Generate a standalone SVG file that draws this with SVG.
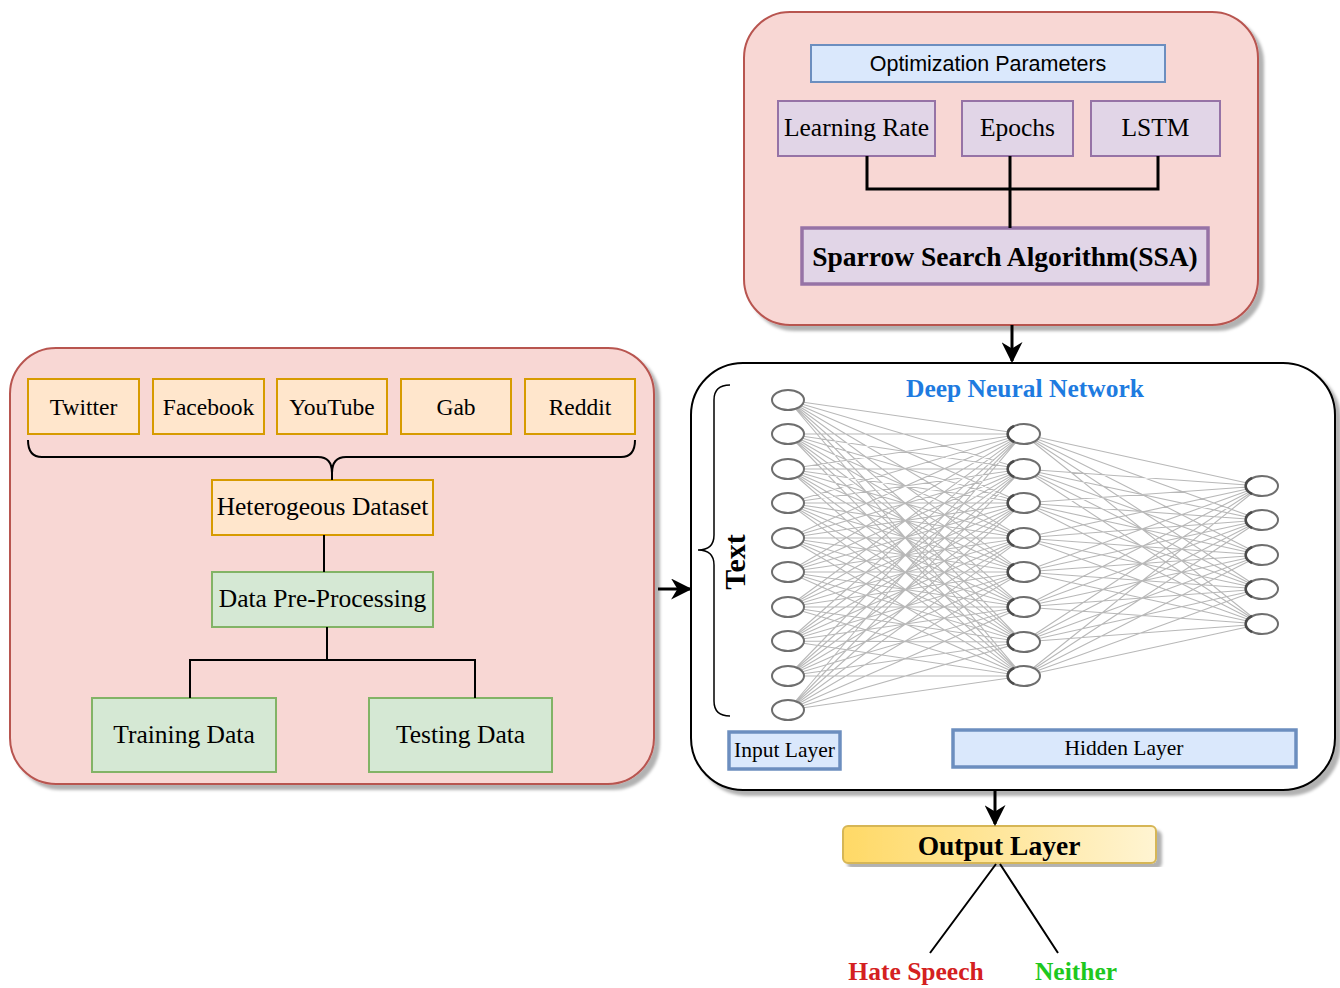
<svg xmlns="http://www.w3.org/2000/svg" width="1340" height="988" viewBox="0 0 1340 988">
  <defs>
    <filter id="shadow" x="-5%" y="-5%" width="112%" height="115%">
      <feDropShadow dx="5" dy="5" stdDeviation="1.5" flood-color="#000" flood-opacity="0.3"/>
    </filter>
    <linearGradient id="gold" x1="0" y1="0" x2="1" y2="0">
      <stop offset="0" stop-color="#ffd966"/>
      <stop offset="1" stop-color="#fff4d2"/>
    </linearGradient>
    <marker id="arrow" viewBox="0 0 10 10" refX="9" refY="5" markerWidth="7" markerHeight="7" orient="auto" markerUnits="strokeWidth">
      <path d="M0 0 L10 5 L0 10 L3 5 z" fill="#000"/>
    </marker>
    <style>
      .panel { fill: #f8d7d4; stroke: #b85450; stroke-width: 2; }
      .orange { fill: #ffe6cc; stroke: #d79b00; stroke-width: 2; }
      .green { fill: #d5e8d4; stroke: #82b366; stroke-width: 2; }
      .purple { fill: #e1d5e7; stroke: #9673a6; stroke-width: 2; }
      .blue { fill: #dae8fc; stroke: #6c8ebf; stroke-width: 2; }
      .thick { stroke-width: 3.5; }
      .lbl { font-family: "Liberation Serif", "Times New Roman", serif; fill: #000; text-anchor: middle; }
      .sans { font-family: "Liberation Sans", Arial, sans-serif; fill: #000; text-anchor: middle; }
      .bold { font-weight: bold; }
      .wire { fill: none; stroke: #000; }
      .edge { fill: none; stroke: #b8b8b8; stroke-width: 1.1; }
      .neuron { fill: #fff; stroke: #6e6e6e; stroke-width: 2; }
      .rim { fill: none; stroke: #4a4a4a; stroke-width: 2.5; }
    </style>
  </defs>

  <rect width="1340" height="988" fill="#fff"/>

  <!-- Optimisation panel -->
  <g id="ssa-panel">
    <rect class="panel" x="744" y="12" width="514" height="313" rx="46" filter="url(#shadow)"/>
    <g id="opt-params">
      <rect class="blue" x="811" y="45" width="354" height="37"/>
      <text class="sans" x="988" y="70.5" font-size="21.5">Optimization Parameters</text>
    </g>
    <g id="learning-rate">
      <rect class="purple" x="778" y="101" width="157" height="55"/>
      <text class="lbl" x="856.5" y="136" font-size="25.5">Learning Rate</text>
    </g>
    <g id="epochs">
      <rect class="purple" x="962" y="101" width="111" height="55"/>
      <text class="lbl" x="1017.5" y="136" font-size="25.5">Epochs</text>
    </g>
    <g id="lstm">
      <rect class="purple" x="1091" y="101" width="129" height="55"/>
      <text class="lbl" x="1155.5" y="136" font-size="25.5">LSTM</text>
    </g>
    <g id="ssa">
      <rect class="purple thick" x="802" y="228" width="406" height="56"/>
      <text class="lbl bold" x="1005" y="266" font-size="27.5">Sparrow Search Algorithm(SSA)</text>
    </g>
  </g>

  <!-- Data panel -->
  <g id="data-panel">
    <rect class="panel" x="10" y="348" width="644" height="436" rx="46" filter="url(#shadow)"/>
    <g id="twitter">
      <rect class="orange" x="28" y="379" width="111" height="55"/>
      <text class="lbl" x="83.5" y="415" font-size="23.5">Twitter</text>
    </g>
    <g id="facebook">
      <rect class="orange" x="153" y="379" width="111" height="55"/>
      <text class="lbl" x="208.5" y="415" font-size="23.5">Facebook</text>
    </g>
    <g id="youtube">
      <rect class="orange" x="277" y="379" width="110" height="55"/>
      <text class="lbl" x="332" y="415" font-size="23.5">YouTube</text>
    </g>
    <g id="gab">
      <rect class="orange" x="401" y="379" width="110" height="55"/>
      <text class="lbl" x="456" y="415" font-size="23.5">Gab</text>
    </g>
    <g id="reddit">
      <rect class="orange" x="525" y="379" width="110" height="55"/>
      <text class="lbl" x="580" y="415" font-size="23.5">Reddit</text>
    </g>
    <g id="dataset">
      <rect class="orange" x="212" y="480" width="221" height="55"/>
      <text class="lbl" x="322.5" y="515" font-size="25.5">Heterogeous Dataset</text>
    </g>
    <g id="preprocessing">
      <rect class="green" x="212" y="572" width="221" height="55"/>
      <text class="lbl" x="322.5" y="607" font-size="25.5">Data Pre-Processing</text>
    </g>
    <g id="training">
      <rect class="green" x="92" y="698" width="184" height="74"/>
      <text class="lbl" x="184" y="743" font-size="25.5">Training Data</text>
    </g>
    <g id="testing">
      <rect class="green" x="369" y="698" width="183" height="74"/>
      <text class="lbl" x="460.5" y="743" font-size="25.5">Testing Data</text>
    </g>
  </g>

  <!-- Network panel -->
  <g id="dnn-panel">
    <rect x="691" y="363" width="644" height="427" rx="52" fill="#fff" stroke="#000" stroke-width="2" filter="url(#shadow)"/>
    <text class="lbl bold" x="1025" y="397" font-size="25.5" style="fill:#1e7be0">Deep Neural Network</text>
    <path class="wire" stroke-width="1.5" d="M730 385 Q714 385 714 400 L714 535 Q714 550 698 550 Q714 550 714 565 L714 701 Q714 716 730 716"/>
    <text class="lbl bold" font-size="30" transform="translate(745 562) rotate(-90)">Text</text>

    <g id="dnn-edges">
      <path class="edge" d="M1023 434L788 400M1023 434L788 434M1023 434L788 469M1023 434L788 503M1023 434L788 538M1023 434L788 572M1023 434L788 607M1023 434L788 641M1023 434L788 676M1023 434L788 710
M1023 469L788 400M1023 469L788 434M1023 469L788 469M1023 469L788 503M1023 469L788 538M1023 469L788 572M1023 469L788 607M1023 469L788 641M1023 469L788 676M1023 469L788 710
M1023 503L788 400M1023 503L788 434M1023 503L788 469M1023 503L788 503M1023 503L788 538M1023 503L788 572M1023 503L788 607M1023 503L788 641M1023 503L788 676M1023 503L788 710
M1023 538L788 400M1023 538L788 434M1023 538L788 469M1023 538L788 503M1023 538L788 538M1023 538L788 572M1023 538L788 607M1023 538L788 641M1023 538L788 676M1023 538L788 710
M1023 572L788 400M1023 572L788 434M1023 572L788 469M1023 572L788 503M1023 572L788 538M1023 572L788 572M1023 572L788 607M1023 572L788 641M1023 572L788 676M1023 572L788 710
M1023 607L788 400M1023 607L788 434M1023 607L788 469M1023 607L788 503M1023 607L788 538M1023 607L788 572M1023 607L788 607M1023 607L788 641M1023 607L788 676M1023 607L788 710
M1023 642L788 400M1023 642L788 434M1023 642L788 469M1023 642L788 503M1023 642L788 538M1023 642L788 572M1023 642L788 607M1023 642L788 641M1023 642L788 676M1023 642L788 710
M1023 676L788 400M1023 676L788 434M1023 676L788 469M1023 676L788 503M1023 676L788 538M1023 676L788 572M1023 676L788 607M1023 676L788 641M1023 676L788 676M1023 676L788 710"/>
      <path class="edge" d="M1261 486L1023 434M1261 486L1023 469M1261 486L1023 503M1261 486L1023 538M1261 486L1023 572M1261 486L1023 607M1261 486L1023 642M1261 486L1023 676
M1261 520L1023 434M1261 520L1023 469M1261 520L1023 503M1261 520L1023 538M1261 520L1023 572M1261 520L1023 607M1261 520L1023 642M1261 520L1023 676
M1261 555L1023 434M1261 555L1023 469M1261 555L1023 503M1261 555L1023 538M1261 555L1023 572M1261 555L1023 607M1261 555L1023 642M1261 555L1023 676
M1261 589L1023 434M1261 589L1023 469M1261 589L1023 503M1261 589L1023 538M1261 589L1023 572M1261 589L1023 607M1261 589L1023 642M1261 589L1023 676
M1261 624L1023 434M1261 624L1023 469M1261 624L1023 503M1261 624L1023 538M1261 624L1023 572M1261 624L1023 607M1261 624L1023 642M1261 624L1023 676"/>
    </g>

    <g id="input-neurons">
      <ellipse class="neuron" cx="788" cy="400" rx="16" ry="10"/>
      <ellipse class="neuron" cx="788" cy="434" rx="16" ry="10"/>
      <ellipse class="neuron" cx="788" cy="469" rx="16" ry="10"/>
      <ellipse class="neuron" cx="788" cy="503" rx="16" ry="10"/>
      <ellipse class="neuron" cx="788" cy="538" rx="16" ry="10"/>
      <ellipse class="neuron" cx="788" cy="572" rx="16" ry="10"/>
      <ellipse class="neuron" cx="788" cy="607" rx="16" ry="10"/>
      <ellipse class="neuron" cx="788" cy="641" rx="16" ry="10"/>
      <ellipse class="neuron" cx="788" cy="676" rx="16" ry="10"/>
      <ellipse class="neuron" cx="788" cy="710" rx="16" ry="10"/>
    </g>
    <g id="hidden-neurons">
      <ellipse class="neuron" cx="1024" cy="434" rx="16" ry="10"/>
      <ellipse class="neuron" cx="1024" cy="469" rx="16" ry="10"/>
      <ellipse class="neuron" cx="1024" cy="503" rx="16" ry="10"/>
      <ellipse class="neuron" cx="1024" cy="538" rx="16" ry="10"/>
      <ellipse class="neuron" cx="1024" cy="572" rx="16" ry="10"/>
      <ellipse class="neuron" cx="1024" cy="607" rx="16" ry="10"/>
      <ellipse class="neuron" cx="1024" cy="642" rx="16" ry="10"/>
      <ellipse class="neuron" cx="1024" cy="676" rx="16" ry="10"/>
      <path class="rim" d="M1014 426 A16 10 0 0 0 1014 442 M1014 461 A16 10 0 0 0 1014 477 M1014 495 A16 10 0 0 0 1014 511 M1014 530 A16 10 0 0 0 1014 546 M1014 564 A16 10 0 0 0 1014 580 M1014 599 A16 10 0 0 0 1014 615 M1014 634 A16 10 0 0 0 1014 650 M1014 668 A16 10 0 0 0 1014 684"/>
    </g>
    <g id="output-neurons">
      <ellipse class="neuron" cx="1262" cy="486" rx="16" ry="10"/>
      <ellipse class="neuron" cx="1262" cy="520" rx="16" ry="10"/>
      <ellipse class="neuron" cx="1262" cy="555" rx="16" ry="10"/>
      <ellipse class="neuron" cx="1262" cy="589" rx="16" ry="10"/>
      <ellipse class="neuron" cx="1262" cy="624" rx="16" ry="10"/>
      <path class="rim" d="M1252 478 A16 10 0 0 0 1252 494 M1252 512 A16 10 0 0 0 1252 528 M1252 547 A16 10 0 0 0 1252 563 M1252 581 A16 10 0 0 0 1252 597 M1252 616 A16 10 0 0 0 1252 632"/>
    </g>

    <g id="input-layer">
      <rect class="blue thick" x="729" y="732" width="111" height="37"/>
      <text class="lbl" x="784.5" y="757" font-size="21.5">Input Layer</text>
    </g>
    <g id="hidden-layer">
      <rect class="blue thick" x="953" y="730" width="343" height="37"/>
      <text class="lbl" x="1124" y="755" font-size="21.5">Hidden Layer</text>
    </g>
  </g>

  <!-- Classifier output -->
  <g id="output-layer">
    <rect x="843" y="826" width="313" height="37" rx="5" fill="url(#gold)" stroke="#d6b656" stroke-width="2" filter="url(#shadow)"/>
    <text class="lbl bold" x="999" y="855" font-size="27.5">Output Layer</text>
  </g>
  <g id="hate-speech">
    <text class="lbl bold" x="916" y="980" font-size="25.5" style="fill:#d42020">Hate Speech</text>
  </g>
  <g id="neither">
    <text class="lbl bold" x="1076" y="980" font-size="25.5" style="fill:#1ec81e">Neither</text>
  </g>

  <!-- Connectors -->
  <g id="connectors">
    <path class="wire" stroke-width="3" d="M867 156 V189 H1158 V156 M1010 156 V228"/>
    <path class="wire" stroke-width="2" d="M332 473 V480 M324 535 V572 M327 627 V660 M190 698 V660 H475 V698"/>
    <path class="wire" stroke-width="2" d="M28 440 Q28 457 42 457 L318 457 Q332 457 332 473 Q332 457 346 457 L621 457 Q635 457 635 440"/>
    <line class="wire" stroke-width="3" x1="1012" y1="325" x2="1012" y2="361" marker-end="url(#arrow)"/>
    <line class="wire" stroke-width="3" x1="658" y1="589" x2="690" y2="589" marker-end="url(#arrow)"/>
    <line class="wire" stroke-width="3" x1="995" y1="790" x2="995" y2="824" marker-end="url(#arrow)"/>
    <path class="wire" stroke-width="2" d="M996 864 L930 953 M1000 864 L1058 953"/>
  </g>
</svg>
